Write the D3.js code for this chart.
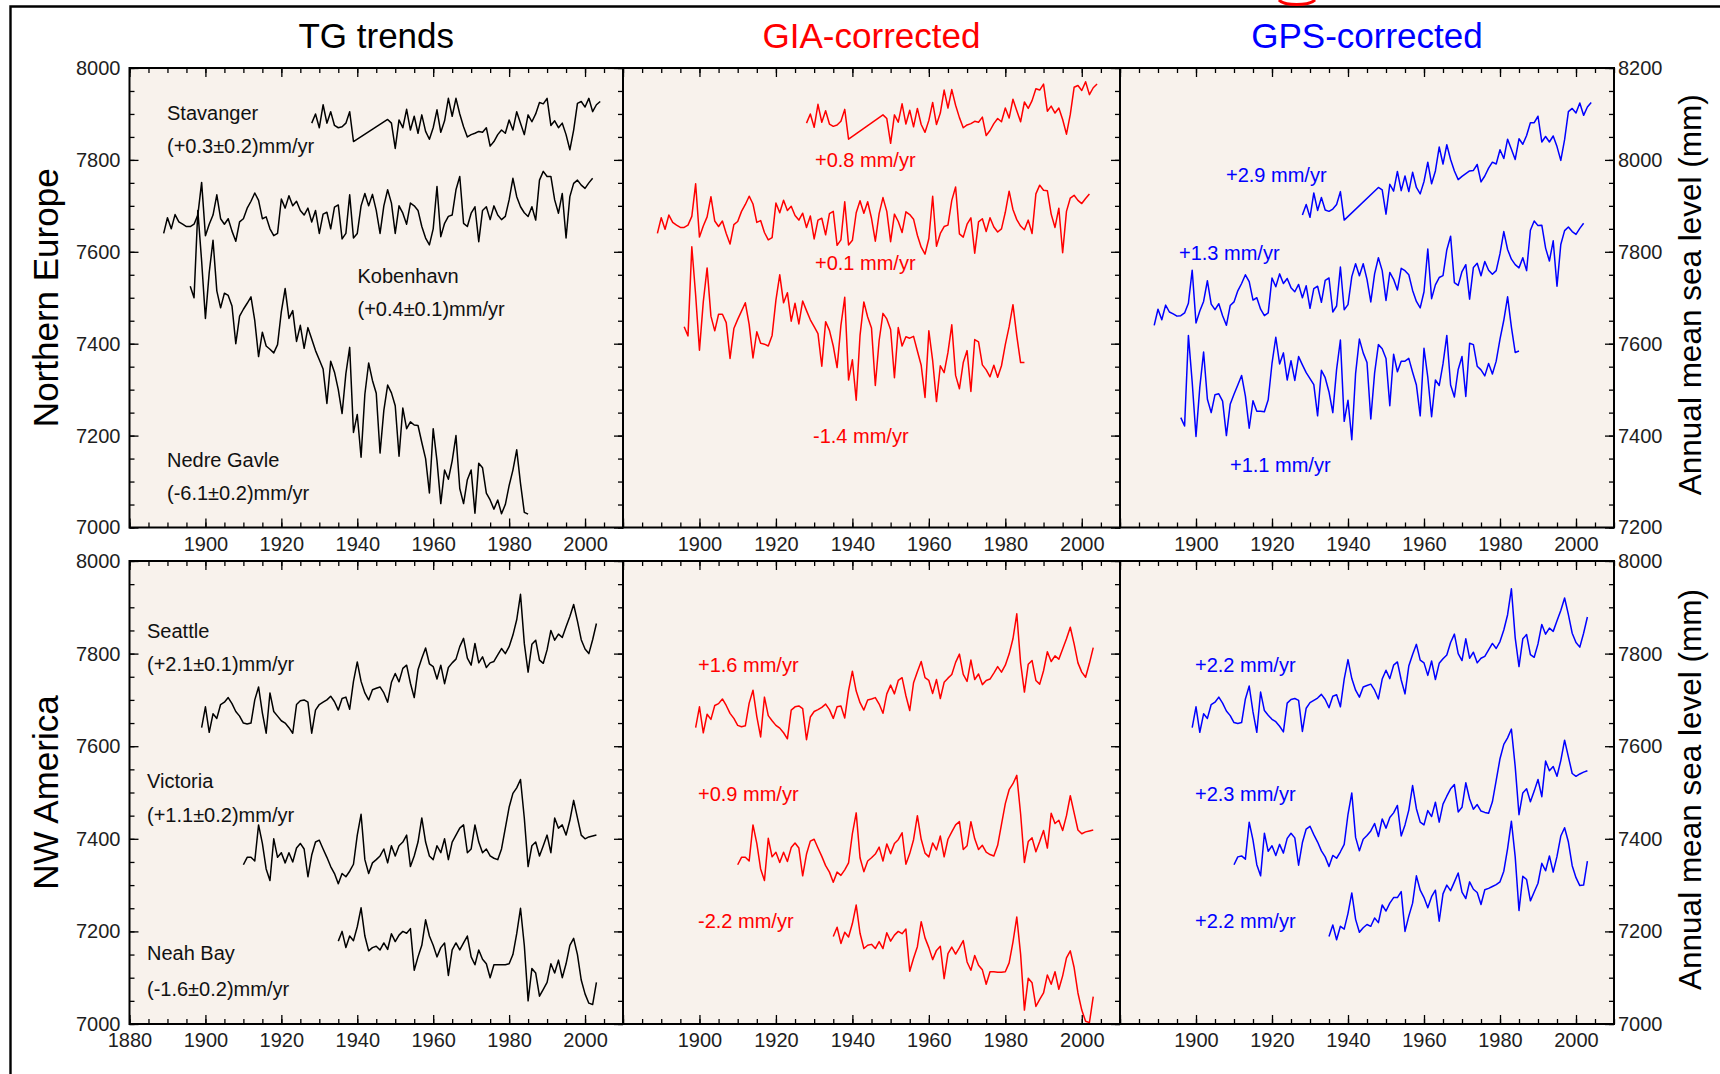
<!DOCTYPE html>
<html>
<head>
<meta charset="utf-8">
<script src="https://cdn.jsdelivr.net/npm/d3@7"></script>
<style>
  html, body { margin: 0; padding: 0; background: #ffffff; }
  svg { display: block; font-family: "Liberation Sans", Arial, Helvetica, sans-serif; }
</style>
</head>
<body>
<svg id="chart" width="1720" height="1074"></svg>
<script>
// ---------------------------------------------------------------
// Annual mean sea level (mm) at six tide gauges, raw and corrected
// ---------------------------------------------------------------

// Northern Europe --------------------------------------------------
const stavangerStart = 1928;
const stavangerTG = [
  7880,7900,7870,7920,7880,7905,7875,7870,7872,7880,7905,7840,
  null,null,null,null,null,null,null,null,
  7888,7880,7825,7887,7870,7910,7865,7895,7858,7898,7862,7845,
  7870,7909,7860,7885,7934,7895,7934,7900,7872,7850,
  7855,7858,7862,7860,7870,7830,7840,7855,7865,7858,
  7887,7865,7905,7880,7855,7898,7883,7900,7925,7922,
  7934,7875,7885,7870,7880,7855,7822,7865,7923,7927,
  7915,7934,7905,7920,7927];
const stavangerGIA = [
  7880,7900,7871,7921,7882,7907,7878,7873,7876,7884,7910,7845,
  null,null,null,null,null,null,null,null,
  7898,7890,7836,7898,7882,7922,7878,7908,7872,7912,7877,7860,
  7886,7925,7877,7902,7952,7913,7953,7919,7892,7870,
  7876,7879,7884,7882,7893,7853,7864,7879,7890,7883,
  7913,7891,7932,7907,7883,7926,7912,7929,7955,7952,
  7965,7906,7917,7902,7913,7888,7856,7899,7958,7962,
  7951,7970,7942,7957,7965];
const stavangerGPS = [
  7880,7903,7875,7928,7890,7918,7891,7888,7893,7903,7931,7869,
  null,null,null,null,null,null,null,null,
  7940,7935,7882,7947,7932,7975,7933,7965,7931,7973,7940,7926,
  7953,7995,7948,7976,8028,7991,8033,8001,7976,7957,
  7964,7970,7976,7977,7990,7952,7965,7982,7995,7991,
  8022,8003,8045,8023,8001,8046,8034,8053,8081,8081,
  8095,8039,8051,8039,8052,8029,7999,8044,8105,8112,
  8102,8124,8097,8115,8125];

const kobenhavnStart = 1889;
const kobenhavnTG = [
  7640,7674,7650,7681,7665,7660,7655,7655,7660,7680,7751,
  7635,7660,7680,7724,7672,7660,7672,7645,7623,7665,
  7672,7695,7710,7728,7712,7672,7676,7650,7635,7640,
  7715,7695,7722,7700,7710,7690,7680,7695,7665,7690,
  7640,7682,7686,7650,7697,7702,7628,7640,7724,7630,
  7640,7700,7727,7700,7725,7690,7640,7700,7735,7706,
  7640,7700,7684,7660,7706,7700,7690,7655,7630,7615,
  7650,7742,7633,7662,7677,7680,7735,7764,7662,7655,
  7684,7698,7622,7690,7698,7670,7700,7680,7670,7677,
  7713,7760,7720,7698,7685,7677,7698,7669,7756,7775,
  7764,7764,7713,7684,7727,7630,7720,7749,7756,7745,
  7738,7750,7760];
const kobenhavnGIA = [
  7640,7674,7649,7680,7664,7658,7653,7653,7658,7677,7748,
  7632,7656,7676,7720,7667,7655,7667,7640,7617,7659,
  7666,7688,7703,7721,7704,7664,7668,7642,7626,7631,
  7706,7685,7712,7690,7699,7679,7669,7684,7653,7678,
  7628,7669,7673,7637,7683,7688,7614,7626,7709,7615,
  7625,7685,7711,7684,7709,7673,7623,7683,7718,7688,
  7622,7682,7666,7642,7687,7681,7671,7636,7610,7595,
  7629,7721,7612,7640,7655,7658,7712,7741,7639,7632,
  7660,7674,7597,7665,7672,7644,7674,7654,7643,7650,
  7686,7732,7692,7670,7656,7648,7669,7640,7726,7745,
  7734,7733,7682,7653,7695,7598,7688,7717,7723,7712,
  7705,7716,7726];
const kobenhavnGPS = [
  7640,7675,7652,7684,7669,7665,7660,7661,7667,7688,7760,
  7645,7671,7692,7737,7686,7674,7687,7661,7640,7683,
  7691,7715,7731,7750,7735,7695,7700,7675,7661,7667,
  7743,7724,7752,7731,7742,7722,7713,7729,7700,7726,
  7677,7720,7725,7690,7738,7743,7669,7682,7767,7674,
  7685,7746,7774,7748,7774,7740,7691,7752,7787,7759,
  7694,7755,7740,7717,7764,7759,7750,7716,7692,7678,
  7713,7806,7698,7728,7744,7748,7804,7834,7733,7727,
  7757,7772,7697,7766,7775,7748,7779,7760,7751,7759,
  7796,7844,7805,7784,7772,7765,7787,7759,7847,7867,
  7857,7858,7808,7780,7824,7725,7816,7846,7854,7844,
  7838,7851,7862];

const nedreGavleStart = 1896;
const nedreGavleTG = [
  7525,7500,7690,7580,
  7455,7555,7625,7515,7478,7510,7505,7482,7400,7460,
  7475,7488,7502,7450,7372,7425,7395,7388,7380,7398,
  7470,7520,7455,7472,7405,7440,7390,7435,7410,7385,
  7365,7345,7270,7362,7338,7300,7248,7335,7392,7207,
  7246,7153,7290,7358,7320,7292,7162,7255,7310,7293,
  7265,7155,7260,7215,7230,7223,7222,7185,7150,7075,
  7215,7145,7052,7125,7105,7145,7200,7085,7052,7104,
  7125,7031,7140,7130,7075,7060,7040,7060,7030,7050,
  7091,7125,7169,7096,7033,7029];
const nedreGavleGIA = [
  7437,7417,7611,7506,
  7386,7491,7565,7460,7428,7464,7464,7446,7368,7433,
  7453,7471,7489,7442,7369,7426,7401,7399,7395,7418,
  7495,7550,7489,7511,7449,7488,7443,7493,7472,7452,
  7437,7422,7351,7448,7429,7395,7348,7440,7501,7321,
  7365,7277,7418,7491,7458,7434,7309,7407,7466,7454,
  7431,7326,7435,7395,7415,7412,7416,7384,7353,7283,
  7428,7363,7274,7352,7337,7381,7441,7331,7302,7359,
  7385,7296,7409,7404,7354,7343,7328,7353,7327,7352,
  7398,7437,7485,7417,7359,7359];
const nedreGavleGPS = [
  7439,7421,7618,7516,
  7398,7505,7582,7479,7450,7489,7491,7475,7400,7468,
  7490,7510,7531,7486,7416,7476,7453,7453,7452,7478,
  7557,7614,7556,7580,7521,7563,7520,7572,7554,7537,
  7524,7511,7443,7542,7526,7495,7450,7544,7608,7431,
  7477,7391,7535,7610,7580,7559,7436,7536,7598,7589,
  7568,7465,7577,7539,7562,7562,7568,7538,7510,7443,
  7590,7527,7441,7521,7509,7556,7618,7510,7484,7544,
  7572,7485,7601,7598,7551,7543,7530,7557,7534,7562,
  7610,7651,7702,7636,7581,7584];

// NW America -------------------------------------------------------
const seattleStart = 1899;
const seattleTG = [
  7640,
  7685,7630,7670,7660,7690,7695,7705,7692,7675,7665,
  7650,7648,7650,7700,7728,7672,7628,7715,7675,7665,
  7655,7650,7640,7628,7690,7698,7700,7695,7628,7678,
  7690,7695,7700,7708,7696,7678,7703,7706,7680,7740,
  7782,7740,7715,7700,7722,7725,7728,7715,7695,7738,
  7757,7739,7768,7775,7736,7705,7765,7790,7812,7778,
  7772,7745,7775,7735,7770,7780,7788,7815,7833,7790,
  7775,7822,7780,7793,7770,7780,7783,7797,7811,7800,
  7815,7840,7873,7928,7822,7760,7820,7829,7786,7779,
  7808,7850,7829,7842,7835,7858,7880,7906,7870,7830,
  7810,7800,7830,7865];
const seattleGIA = [
  7640,
  7685,7629,7669,7658,7688,7692,7702,7688,7671,7660,
  7645,7642,7644,7693,7721,7664,7620,7706,7666,7655,
  7645,7639,7629,7616,7678,7685,7687,7681,7614,7663,
  7675,7679,7684,7691,7679,7660,7685,7687,7661,7720,
  7762,7719,7694,7678,7700,7702,7705,7691,7671,7713,
  7732,7713,7742,7748,7709,7677,7737,7761,7783,7748,
  7742,7714,7744,7703,7738,7747,7755,7781,7799,7755,
  7740,7786,7744,7756,7733,7742,7745,7758,7772,7760,
  7775,7799,7832,7886,7780,7717,7777,7785,7742,7734,
  7763,7804,7783,7795,7788,7810,7832,7857,7821,7780,
  7760,7749,7779,7813];
const seattleGPS = [
  7640,
  7685,7630,7670,7660,7690,7695,7706,7693,7676,7666,
  7651,7649,7651,7702,7730,7674,7630,7717,7677,7667,
  7658,7653,7643,7631,7693,7701,7703,7699,7632,7682,
  7694,7699,7704,7712,7701,7683,7708,7711,7685,7745,
  7787,7746,7721,7706,7728,7731,7734,7721,7702,7745,
  7764,7746,7775,7782,7743,7713,7773,7798,7820,7786,
  7780,7753,7784,7744,7779,7789,7797,7824,7842,7800,
  7785,7832,7790,7803,7780,7790,7794,7808,7822,7811,
  7826,7851,7884,7940,7834,7772,7832,7841,7798,7792,
  7821,7863,7842,7855,7848,7871,7893,7920,7884,7844,
  7824,7814,7844,7879];

const victoriaStart = 1910;
const victoriaTG = [
  7344,7360,7360,7352,7430,7390,7335,7310,7400,7360,
  7370,7348,7370,7350,7380,7390,7378,7318,7365,7393,
  7397,7378,7360,7340,7325,7303,7325,7318,7330,7345,
  7408,7453,7355,7325,7348,7355,7363,7378,7348,7385,
  7363,7385,7393,7408,7340,7363,7393,7445,7393,7363,
  7355,7385,7370,7400,7355,7393,7408,7423,7430,7370,
  7378,7430,7393,7370,7378,7363,7358,7355,7378,7423,
  7468,7498,7510,7528,7445,7340,7385,7393,7363,7385,
  7408,7370,7445,7423,7430,7408,7440,7483,7445,7408,
  7400,7404,7406,7408];
const victoriaGIA = [
  7344,7360,7360,7352,7430,7390,7335,7310,7401,7361,
  7371,7349,7371,7351,7381,7391,7380,7320,7367,7395,
  7399,7380,7362,7342,7328,7306,7328,7321,7333,7348,
  7411,7456,7359,7329,7352,7359,7367,7382,7352,7389,
  7368,7390,7398,7413,7345,7368,7398,7450,7399,7369,
  7361,7391,7376,7406,7361,7399,7415,7430,7437,7377,
  7385,7437,7400,7377,7386,7371,7366,7363,7386,7431,
  7476,7506,7519,7537,7454,7349,7394,7402,7372,7394,
  7418,7380,7455,7433,7440,7418,7450,7493,7456,7419,
  7411,7415,7417,7419];
const victoriaGPS = [
  7344,7361,7363,7356,7436,7397,7344,7320,7412,7373,
  7385,7364,7388,7369,7401,7412,7402,7343,7392,7421,
  7427,7409,7393,7374,7361,7340,7364,7358,7372,7388,
  7453,7499,7403,7374,7399,7407,7417,7433,7405,7443,
  7423,7446,7456,7472,7406,7430,7462,7515,7465,7436,
  7430,7461,7448,7479,7436,7475,7492,7508,7517,7458,
  7468,7521,7486,7464,7474,7460,7457,7455,7480,7526,
  7573,7604,7618,7637,7556,7452,7499,7508,7480,7503,
  7528,7491,7568,7547,7556,7535,7569,7613,7577,7541,
  7535,7540,7544,7547];

const neahBayStart = 1935;
const neahBayTG = [
  7179,7200,7165,7190,7180,
  7210,7251,7190,7158,7165,7168,7160,7175,7161,7195,
  7178,7192,7200,7196,7206,7116,7145,7170,7225,7190,
  7170,7145,7165,7175,7105,7160,7175,7160,7175,7190,
  7145,7128,7160,7140,7130,7100,7128,7128,7128,7128,
  7130,7150,7195,7250,7170,7050,7120,7110,7060,7075,
  7090,7130,7110,7138,7100,7130,7170,7185,7150,7095,
  7065,7045,7042,7090];
const neahBayGIA = [
  7189,7209,7174,7198,7188,
  7217,7257,7196,7163,7170,7172,7163,7178,7163,7197,
  7179,7192,7200,7195,7205,7114,7142,7167,7221,7186,
  7165,7139,7159,7168,7098,7152,7166,7151,7165,7180,
  7134,7116,7148,7127,7117,7086,7113,7113,7112,7112,
  7113,7132,7177,7231,7151,7030,7099,7089,7038,7053,
  7067,7106,7086,7113,7075,7104,7143,7158,7122,7067,
  7030,7006,7003,7059];
const neahBayGPS = [
  7189,7214,7182,7211,7205,
  7239,7283,7226,7198,7208,7215,7211,7229,7219,7257,
  7244,7261,7273,7273,7286,7200,7233,7261,7320,7289,
  7273,7251,7275,7289,7222,7281,7300,7288,7307,7326,
  7285,7271,7307,7291,7284,7258,7290,7293,7297,7301,
  7307,7330,7379,7438,7361,7245,7319,7312,7266,7285,
  7304,7347,7331,7363,7328,7362,7406,7424,7393,7342,
  7316,7299,7300,7352];

// Text ------------------------------------------------------------
const columnTitles = ["TG trends", "GIA-corrected", "GPS-corrected"];
const rowTitles = ["Northern Europe", "NW America"];
const yAxisTitle = "Annual mean sea level (mm)";
const stationNamesNE = ["Stavanger", "Kobenhavn", "Nedre Gavle"];
const stationNamesNW = ["Seattle", "Victoria", "Neah Bay"];
const tgRatesNE = ["(+0.3\u00b10.2)mm/yr", "(+0.4\u00b10.1)mm/yr", "(-6.1\u00b10.2)mm/yr"];
const tgRatesNW = ["(+2.1\u00b10.1)mm/yr", "(+1.1\u00b10.2)mm/yr", "(-1.6\u00b10.2)mm/yr"];
const giaRatesNE = ["+0.8 mm/yr", "+0.1 mm/yr", "-1.4 mm/yr"];
const giaRatesNW = ["+1.6 mm/yr", "+0.9 mm/yr", "-2.2 mm/yr"];
const gpsRatesNE = ["+2.9 mm/yr", "+1.3 mm/yr", "+1.1 mm/yr"];
const gpsRatesNW = ["+2.2 mm/yr", "+2.3 mm/yr", "+2.2 mm/yr"];

// Axes ------------------------------------------------------------
const yearDomain = [1880, 2010];
const yearLabelsFull = [1880, 1900, 1920, 1940, 1960, 1980, 2000];
const yearLabels = [1900, 1920, 1940, 1960, 1980, 2000];
const levelDomainMain = [7000, 8000];
const levelDomainGPSNorth = [7200, 8200];

// ---------------------------------------------------------------
// Layout
// ---------------------------------------------------------------
const W = 1720, H = 1074;
const colX = [[129.5, 623], [623, 1120], [1120, 1614]];
const rowY = [[68, 527.5], [561, 1024]];
const panelFill = "#f8f2ec";
const inkColors = ["#000000", "#ff0000", "#0000ff"];
const labelFont = 20;

const svg = d3.select("#chart");

function points(start, values) {
  return values.map((v, i) => ({ year: start + i, value: v })).filter(d => d.value != null);
}

const panels = [
  { row: 0, col: 0, domain: levelDomainMain,
    series: [[stavangerStart, stavangerTG], [kobenhavnStart, kobenhavnTG], [nedreGavleStart, nedreGavleTG]] },
  { row: 0, col: 1, domain: levelDomainMain,
    series: [[stavangerStart, stavangerGIA], [kobenhavnStart, kobenhavnGIA], [nedreGavleStart, nedreGavleGIA]] },
  { row: 0, col: 2, domain: levelDomainGPSNorth,
    series: [[stavangerStart, stavangerGPS], [kobenhavnStart, kobenhavnGPS], [nedreGavleStart, nedreGavleGPS]] },
  { row: 1, col: 0, domain: levelDomainMain,
    series: [[seattleStart, seattleTG], [victoriaStart, victoriaTG], [neahBayStart, neahBayTG]] },
  { row: 1, col: 1, domain: levelDomainMain,
    series: [[seattleStart, seattleGIA], [victoriaStart, victoriaGIA], [neahBayStart, neahBayGIA]] },
  { row: 1, col: 2, domain: levelDomainMain,
    series: [[seattleStart, seattleGPS], [victoriaStart, victoriaGPS], [neahBayStart, neahBayGPS]] }
];

// outer frame (left and top edges of the figure box)
svg.append("path")
  .attr("d", `M10.5,${H} V6.5 H${W}`)
  .attr("fill", "none").attr("stroke", "#000").attr("stroke-width", 2.4);

// red stroke just above the frame (tail of a heading outside the figure)
svg.append("path")
  .attr("d", "M1279,0 C1284,6 1309,6 1315,0")
  .attr("fill", "none").attr("stroke", "#ff0000").attr("stroke-width", 3);

function styleAxis(g) {
  g.attr("font-size", null).attr("font-family", null);
  g.select(".domain").remove();
  g.selectAll(".tick line").attr("stroke", "#000").attr("stroke-width", 1.3);
  g.selectAll(".tick text").attr("fill", "#1e1e1e").style("font-size", labelFont + "px");
}

panels.forEach((p, idx) => {
  const [x0, x1] = colX[p.col];
  const [y0, y1] = rowY[p.row];
  const x = d3.scaleLinear().domain(yearDomain).range([x0, x1]);
  const y = d3.scaleLinear().domain(p.domain).range([y1, y0]);
  const g = svg.append("g");

  g.append("rect").attr("x", x0).attr("y", y0).attr("width", x1 - x0).attr("height", y1 - y0)
    .attr("fill", panelFill);

  const clipId = "clip" + idx;
  svg.append("clipPath").attr("id", clipId)
    .append("rect").attr("x", x0).attr("y", y0).attr("width", x1 - x0).attr("height", y1 - y0);

  // horizontal ticks, pointing into the panel on both edges
  const minorYears = d3.range(yearDomain[0], yearDomain[1] + 1, 5);
  const majorYears = d3.range(yearDomain[0], yearDomain[1] + 1, 20);
  [[d3.axisBottom, y1], [d3.axisTop, y0]].forEach(([mk, pos]) => {
    g.append("g").attr("transform", `translate(0,${pos})`)
      .call(mk(x).tickValues(minorYears).tickSize(-5).tickFormat(""))
      .call(styleAxis);
    g.append("g").attr("transform", `translate(0,${pos})`)
      .call(mk(x).tickValues(majorYears).tickSize(-9).tickFormat(""))
      .call(styleAxis);
  });

  // vertical ticks on the right edge (and the left edge of the first column)
  const minorLevels = d3.range(p.domain[0], p.domain[1] + 1, 50);
  const majorLevels = d3.range(p.domain[0], p.domain[1] + 1, 200);
  const vEdges = [[d3.axisRight, x1]];
  if (p.col === 0) vEdges.push([d3.axisLeft, x0]);
  vEdges.forEach(([mk, pos]) => {
    g.append("g").attr("transform", `translate(${pos},0)`)
      .call(mk(y).tickValues(minorLevels).tickSize(-5).tickFormat(""))
      .call(styleAxis);
    g.append("g").attr("transform", `translate(${pos},0)`)
      .call(mk(y).tickValues(majorLevels).tickSize(-9).tickFormat(""))
      .call(styleAxis);
  });

  // year labels
  const labelYears = (p.row === 1 && p.col === 0) ? yearLabelsFull : yearLabels;
  g.append("g").attr("transform", `translate(0,${y1})`)
    .call(d3.axisBottom(x).tickValues(labelYears).tickSize(0).tickPadding(9).tickFormat(d3.format("d")))
    .call(styleAxis);

  // level labels
  if (p.col === 0) {
    g.append("g").attr("transform", `translate(${x0},0)`)
      .call(d3.axisLeft(y).tickValues(majorLevels).tickSize(0).tickPadding(9).tickFormat(d3.format("d")))
      .call(styleAxis);
  }
  if (p.col === 2) {
    g.append("g").attr("transform", `translate(${x1},0)`)
      .call(d3.axisRight(y).tickValues(majorLevels).tickSize(0).tickPadding(4).tickFormat(d3.format("d")))
      .call(styleAxis);
  }

  // data
  const line = d3.line().x(d => x(d.year)).y(d => y(d.value));
  const lines = g.append("g").attr("clip-path", `url(#${clipId})`);
  p.series.forEach(([start, vals]) => {
    lines.append("path").datum(points(start, vals))
      .attr("d", line)
      .attr("fill", "none")
      .attr("stroke", inkColors[p.col])
      .attr("stroke-width", 1.5)
      .attr("stroke-linejoin", "round");
  });

  // frame
  g.append("rect").attr("x", x0).attr("y", y0).attr("width", x1 - x0).attr("height", y1 - y0)
    .attr("fill", "none").attr("stroke", "#000").attr("stroke-width", 2);
});

// column titles
columnTitles.forEach((t, i) => {
  svg.append("text").text(t)
    .attr("x", (colX[i][0] + colX[i][1]) / 2).attr("y", 48)
    .attr("text-anchor", "middle").attr("font-size", 35).attr("fill", inkColors[i]);
});

// row titles
rowTitles.forEach((t, r) => {
  const cy = (rowY[r][0] + rowY[r][1]) / 2;
  svg.append("text").text(t)
    .attr("transform", `translate(58,${cy}) rotate(-90)`)
    .attr("text-anchor", "middle").attr("font-size", 35).attr("fill", "#000");
});

// right-hand axis titles
rowY.forEach(([a, b]) => {
  svg.append("text").text(yAxisTitle)
    .attr("transform", `translate(1701,${(a + b) / 2 - 3}) rotate(-90)`)
    .attr("text-anchor", "middle").attr("font-size", 31.5).attr("fill", "#000");
});

// annotations
function note(txt, xp, yp, color) {
  svg.append("text").text(txt).attr("x", xp).attr("y", yp)
    .attr("font-size", labelFont).attr("fill", color);
}
const neNameXY = [[167, 120], [357.5, 283], [167, 467]];
const neRateXY = [[167, 153], [357.5, 316], [167, 500]];
stationNamesNE.forEach((t, i) => note(t, neNameXY[i][0], neNameXY[i][1], "#111"));
tgRatesNE.forEach((t, i) => note(t, neRateXY[i][0], neRateXY[i][1], "#111"));
const nwNameY = [638, 788, 960];
const nwRateY = [671, 822, 996];
stationNamesNW.forEach((t, i) => note(t, 147, nwNameY[i], "#111"));
tgRatesNW.forEach((t, i) => note(t, 147, nwRateY[i], "#111"));

const giaNE = [[815, 167], [815, 270], [813, 443]];
giaRatesNE.forEach((t, i) => note(t, giaNE[i][0], giaNE[i][1], inkColors[1]));
const gpsNE = [[1226, 182], [1179, 260], [1230, 472]];
gpsRatesNE.forEach((t, i) => note(t, gpsNE[i][0], gpsNE[i][1], inkColors[2]));
const nwRateRowY = [672, 801, 928];
giaRatesNW.forEach((t, i) => note(t, 698, nwRateRowY[i], inkColors[1]));
gpsRatesNW.forEach((t, i) => note(t, 1195, nwRateRowY[i], inkColors[2]));
</script>
</body>
</html>
